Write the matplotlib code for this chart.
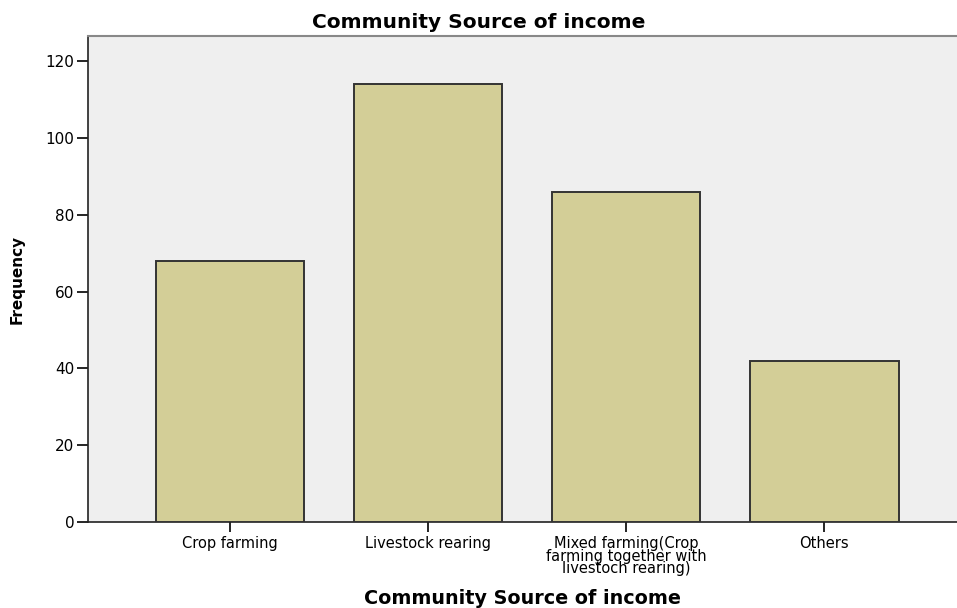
import matplotlib
matplotlib.use("Agg")
import matplotlib.pyplot as plt

categories = ["Crop farming", "Livestock rearing",
              "Mixed farming(Crop\nfarming together with\nlivestoch rearing)", "Others"]
frequency = [68, 114, 86, 42]
yticks = [0, 20, 40, 60, 80, 100, 120]

plt.rcParams['font.family'] = ['DejaVu Sans']

fig = plt.figure(figsize=(9.57, 6.08), dpi=100)
ax = fig.add_axes([0.092, 0.1414, 0.908, 0.7994])
ax.set_facecolor('#efefef')

x = list(range(len(categories)))
ax.bar(x, frequency, width=0.75, color='#d3ce97', edgecolor='#333333', linewidth=1.4, zorder=3)

ax.set_xlim(-0.717, 3.67)
ax.set_ylim(0, 126.6)
ax.set_yticks(yticks)
ax.set_xticks(x)
ax.set_xticklabels(categories, fontsize=10.5, linespacing=0.8)
ax.tick_params(axis='y', labelsize=11, length=8, width=1.2, pad=2, direction='out')
ax.tick_params(axis='x', length=7, width=1.2, pad=3, direction='out')

for s in ['left', 'bottom']:
    ax.spines[s].set_color('#222222')
    ax.spines[s].set_linewidth(1.2)
ax.spines['top'].set_color('#888888')
ax.spines['top'].set_linewidth(1.5)
ax.spines['right'].set_visible(False)

fig.text(0.5, 1 - 28 / 608, "Community Source of income", fontsize=14.5, fontweight='bold',
         ha='center', va='baseline')
ax.set_xlabel("Community Source of income", fontsize=13.8, fontweight='bold', labelpad=9)
ax.set_ylabel("Frequency", fontsize=11, fontweight='bold', labelpad=15)

fig.savefig("out.png", dpi=100)
